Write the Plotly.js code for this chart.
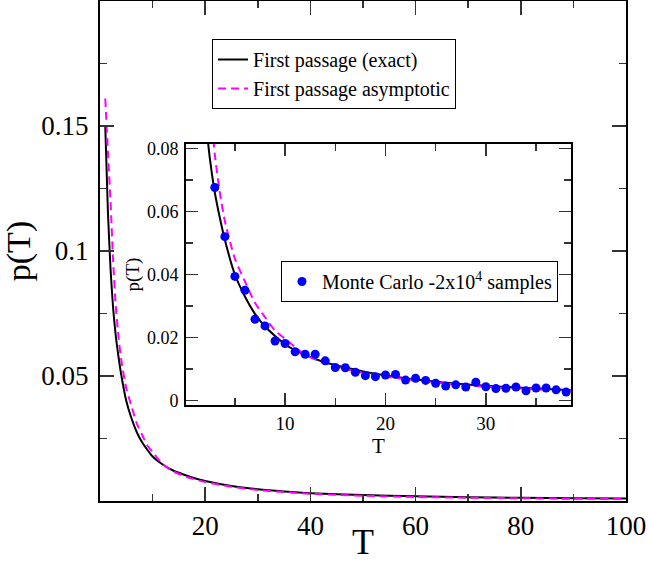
<!DOCTYPE html>
<html><head><meta charset="utf-8">
<script src="https://cdn.plot.ly/plotly-3.0.1.min.js"></script>
<style>html,body{margin:0;padding:0;background:#fff}#chart{width:648px;height:562px}</style>
</head><body><div id="chart"></div>
<script>
// Curve samples (T, p(T))
const T_curve = [1, 1.5, 2, 2.5, 3, 3.5, 4, 5, 6, 7, 8, 9, 10, 12, 14, 16, 18, 20, 25, 30, 35, 40, 50, 60, 70, 80, 90, 100];
const p_exact = [0.150, 0.116, 0.093, 0.077, 0.066, 0.058, 0.051, 0.040, 0.033, 0.0275, 0.0235, 0.0205, 0.0178, 0.0145, 0.0121, 0.0105, 0.0091, 0.0080, 0.0060, 0.0047, 0.0038, 0.0031, 0.0024, 0.0019, 0.0015, 0.0013, 0.0011, 0.0010];
const p_asym  = [0.161, 0.140, 0.120, 0.096, 0.078, 0.066, 0.057, 0.045, 0.0378, 0.031, 0.0265, 0.0222, 0.0196, 0.0145, 0.0118, 0.0100, 0.0087, 0.0076, 0.0057, 0.0044, 0.0036, 0.0029, 0.0021, 0.0016, 0.0013, 0.0011, 0.0009, 0.0008];
// Monte Carlo samples
const T_mc = [3,4,5,6,7,8,9,10,11,12,13,14,15,16,17,18,19,20,21,22,23,24,25,26,27,28,29,30,31,32,33,34,35,36,37,38];
const p_mc = [0.0676,0.0520,0.0394,0.0350,0.0258,0.0237,0.0189,0.0181,0.0155,0.0147,0.0147,0.0126,0.0105,0.0104,0.0090,0.0079,0.0076,0.0081,0.0083,0.0065,0.0071,0.0064,0.0055,0.0046,0.0050,0.0043,0.0058,0.0044,0.0038,0.0039,0.0043,0.0031,0.0040,0.0040,0.0034,0.0027];
// Tick labels
const mainXTicks = [20,40,60,80,100], mainXText = ['20','40','60','80','100'], mainXMinor = [10,30,50,70,90];
const mainYTicks = [0.05,0.1,0.15], mainYText = ['0.05','0.1','0.15'], mainYMinor = [0.025,0.075,0.125,0.175];
const insXTicks = [10,20,30], insXText = ['10','20','30'], insXMinor = [5,15,25,35];
const insYTicks = [0,0.02,0.04,0.06,0.08], insYText = ['0','0.02','0.04','0.06','0.08'], insYMinor = [0.01,0.03,0.05,0.07];

const FONT = '"Liberation Serif", "Times New Roman", serif';
function f(size){ return {family:FONT, size:size, color:'#000'}; }
const traces = [
  {x:T_curve, y:p_exact, mode:'lines', name:'First passage (exact)', line:{color:'#000', width:2, shape:'spline', smoothing:0.6}, xaxis:'x', yaxis:'y', legend:'legend'},
  {x:T_curve, y:p_asym, mode:'lines', name:'First passage asymptotic', line:{color:'#ff00ff', width:2, dash:'8px,5px', shape:'spline', smoothing:0.6}, xaxis:'x', yaxis:'y', legend:'legend'},
  {x:T_curve, y:p_exact, mode:'lines', showlegend:false, line:{color:'#000', width:2, shape:'spline', smoothing:0.6}, xaxis:'x2', yaxis:'y2'},
  {x:T_curve, y:p_asym, mode:'lines', showlegend:false, line:{color:'#ff00ff', width:2, dash:'8px,5px', shape:'spline', smoothing:0.6}, xaxis:'x2', yaxis:'y2'},
  {x:T_mc, y:p_mc, mode:'markers', name:'Monte Carlo -2x10<sup>4</sup> samples', marker:{color:'#0000ff', size:9}, xaxis:'x2', yaxis:'y2', legend:'legend2'}
];

function ax(o){ return Object.assign({showline:true, linewidth:2, linecolor:'#000', mirror:'allticks', showgrid:false, zeroline:false, ticks:'inside', tickcolor:'#333', tickwidth:1.5, tickmode:'array'}, o); }

const layout = {
  width:648, height:562,
  margin:{l:100, r:22, t:1, b:61},
  paper_bgcolor:'#fff', plot_bgcolor:'#fff',
  font:f(16),
  xaxis: ax({domain:[0,1], anchor:'y', range:[0,100], tickvals:mainXTicks, ticktext:mainXText, ticklen:14,
    minor:{tickvals:mainXMinor, ticklen:7, ticks:'inside', tickcolor:'#333', tickwidth:1.5},
    tickfont:f(27), title:{text:'T', font:f(36), standoff:0}}),
  yaxis: ax({domain:[0,1], anchor:'x', range:[0,0.2], tickvals:mainYTicks, ticktext:mainYText, ticklen:14,
    minor:{tickvals:mainYMinor, ticklen:7, ticks:'inside', tickcolor:'#333', tickwidth:1.5},
    tickfont:f(27), ticklabelstandoff:4, title:{text:'p(T)', font:f(34), standoff:12}}),
  xaxis2: ax({domain:[0.1635,0.8954], anchor:'y2', range:[0.13,38.48], tickvals:insXTicks, ticktext:insXText, ticklen:12,
    minor:{tickvals:insXMinor, ticklen:7, ticks:'inside', tickcolor:'#333', tickwidth:1.5},
    tickfont:f(19), title:{text:'T', font:f(21), standoff:0}}),
  yaxis2: ax({domain:[0.192,0.714], anchor:'x2', range:[-0.0014,0.0814], tickvals:insYTicks, ticktext:insYText, ticklen:12,
    minor:{tickvals:insYMinor, ticklen:7, ticks:'inside', tickcolor:'#333', tickwidth:1.5},
    tickfont:f(18), ticklabelstandoff:2, title:{text:'p(T)', font:f(19), standoff:2}}),
  legend:{x:0.213, y:0.924, xanchor:'left', yanchor:'top', bgcolor:'#fff', bordercolor:'#000', borderwidth:1, font:f(20), tracegroupgap:0},
  legend2:{x:0.344, y:0.48, xanchor:'left', yanchor:'top', bgcolor:'#fff', bordercolor:'#000', borderwidth:1, font:f(20)},
  showlegend:true
};
Plotly.newPlot('chart', traces, layout, {displayModeBar:false, staticPlot:true});
</script></body></html>
